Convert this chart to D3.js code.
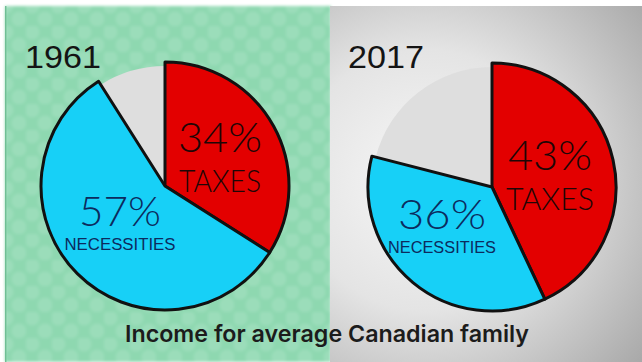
<!DOCTYPE html>
<html>
<head>
<meta charset="utf-8">
<script src="https://cdn.jsdelivr.net/npm/d3@7"></script>
<style>
  html, body { margin: 0; padding: 0; background: #ffffff; }
  svg { display: block; }
</style>
</head>
<body>
<svg id="chart" width="642" height="362"></svg>
<script>
// Share of income for the average Canadian family
const years = ["1961", "2017"];
const categories = ["TAXES", "NECESSITIES", "OTHER"];
const taxes = [34, 43];
const necessities = [57, 36];
const other = [9, 21];
const title = "Income for average Canadian family";

const W = 642, H = 362;
const svg = d3.select("#chart");
const defs = svg.append("defs");

// Dotted green backdrop
const pat = defs.append("pattern")
  .attr("id", "dots").attr("patternUnits", "userSpaceOnUse")
  .attr("width", 26).attr("height", 26);
pat.append("rect").attr("width", 26).attr("height", 26).attr("fill", "#8ed8b0");
[[6, 6], [19, 19]].forEach(([cx, cy]) =>
  pat.append("circle").attr("cx", cx).attr("cy", cy).attr("r", 7.5)
    .attr("fill", "#a3e1c1").attr("opacity", 0.6));
const blur = defs.append("filter").attr("id", "soft");
blur.append("feGaussianBlur").attr("stdDeviation", 1.8);

// Grey vignette backdrop
const rg = defs.append("radialGradient").attr("id", "vignette")
  .attr("gradientUnits", "userSpaceOnUse")
  .attr("cx", 425).attr("cy", 180).attr("r", 290);
rg.append("stop").attr("offset", "0%").attr("stop-color", "#f7f7f7");
rg.append("stop").attr("offset", "45%").attr("stop-color", "#e4e4e4");
rg.append("stop").attr("offset", "100%").attr("stop-color", "#a6a6a6");

svg.append("rect").attr("x", 0).attr("y", 0).attr("width", W).attr("height", H).attr("fill", "#ffffff");
svg.append("rect").attr("x", 5).attr("y", 6).attr("width", 326).attr("height", H - 6)
  .attr("fill", "url(#dots)").attr("filter", "url(#soft)");
svg.append("rect").attr("x", 5).attr("y", 6).attr("width", 1.5).attr("height", H - 6).attr("fill", "#6fbf94");
svg.append("rect").attr("x", 330).attr("y", 6).attr("width", W - 330).attr("height", H - 6)
  .attr("fill", "url(#vignette)");

const colors = d3.scaleOrdinal().domain(categories).range(["#e30000", "#17d0f7", "#dedede"]);
const textColors = { TAXES: "#1e0606", NECESSITIES: "#0c2b5e" };

const pie = d3.pie().sort(null).value(d => d.value);
const R = 124;
const arcMain = d3.arc().innerRadius(0).outerRadius(R);
const arcRest = d3.arc().innerRadius(0).outerRadius(R - 4);

const centers = [[165, 186], [492, 187]];
// [dx, percent baseline, name baseline, percent width, name width]
const labelLayout = [
  { TAXES: [55, -34, 6, 84, 82], NECESSITIES: [-45, 40, 64, 82, 111] },
  { TAXES: [58, -17, 23, 84, 88], NECESSITIES: [-50, 42, 66, 88, 108] }
];

years.forEach((yr, i) => {
  const data = [
    { key: "TAXES", value: taxes[i] },
    { key: "NECESSITIES", value: necessities[i] },
    { key: "OTHER", value: other[i] }
  ];
  const arcs = pie(data);
  const g = svg.append("g").attr("transform", `translate(${centers[i][0]},${centers[i][1]})`);

  g.selectAll("path.rest").data(arcs.filter(a => a.data.key === "OTHER")).join("path")
    .attr("class", "rest").attr("d", arcRest).attr("fill", colors("OTHER"));
  g.selectAll("path.main").data(arcs.filter(a => a.data.key !== "OTHER")).join("path")
    .attr("class", "main").attr("d", arcMain)
    .attr("fill", d => colors(d.data.key))
    .attr("stroke", "#111111").attr("stroke-width", 3).attr("stroke-linejoin", "round");

  arcs.filter(a => a.data.key !== "OTHER").forEach(a => {
    const [dx, dyPct, dyName, wPct, wName] = labelLayout[i][a.data.key];
    const col = textColors[a.data.key];
    g.append("text")
      .attr("x", dx).attr("y", dyPct)
      .attr("text-anchor", "middle")
      .attr("font-family", "Lato, 'Open Sans', sans-serif")
      .attr("font-weight", 300)
      .attr("font-size", 42)
      .attr("textLength", wPct).attr("lengthAdjust", "spacingAndGlyphs")
      .attr("fill", col)
      .text(a.data.value + "%");
    const isTax = a.data.key === "TAXES";
    g.append("text")
      .attr("x", dx).attr("y", dyName)
      .attr("text-anchor", "middle")
      .attr("font-family", isTax ? "Lato, sans-serif" : "'Liberation Sans', Arial, sans-serif")
      .attr("font-weight", isTax ? 300 : 400)
      .attr("font-size", isTax ? 31 : 16)
      .attr("textLength", wName).attr("lengthAdjust", "spacingAndGlyphs")
      .attr("fill", col)
      .text(a.data.key);
  });

  svg.append("text")
    .attr("x", i === 0 ? 25 : 348).attr("y", 68)
    .attr("font-family", "'Liberation Sans', Arial, sans-serif")
    .attr("font-size", 32)
    .attr("textLength", 76).attr("lengthAdjust", "spacingAndGlyphs")
    .attr("fill", "#141414")
    .text(yr);
});

svg.append("text")
  .attr("x", 327).attr("y", 342)
  .attr("text-anchor", "middle")
  .attr("font-family", "Inter, 'Open Sans', sans-serif")
  .attr("font-weight", 600)
  .attr("font-size", 23)
  .attr("textLength", 404).attr("lengthAdjust", "spacingAndGlyphs")
  .attr("fill", "#1c1c1c")
  .text(title);
</script>
</body>
</html>
